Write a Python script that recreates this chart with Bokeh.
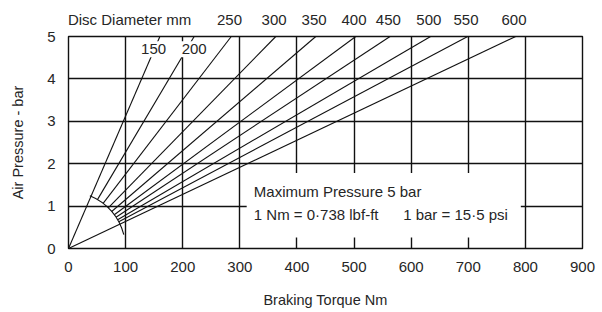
import math
from bokeh.plotting import figure
from bokeh.models import Label, BoxAnnotation, FixedTicker, Range1d, ColumnDataSource, LinearAxis
from bokeh.embed import file_html
from bokeh.resources import INLINE

# ---- data ----
disc_diameters = [150, 200, 250, 300, 350, 400, 450, 500, 550, 600]      # mm
torque_at_5bar = [160, 220, 285, 363, 433, 503, 563, 634, 699, 783]      # Nm at max pressure
max_pressure = 5                                                          # bar
line_from_origin = [True, False, False, False, False, False, False, False, False, True]
x_ticks = [0, 100, 200, 300, 400, 500, 600, 700, 800, 900]
y_ticks = [0, 1, 2, 3, 4, 5]

# ---- layout ----
W, H = 600, 310
ML, MT = 68, 36
FW, FH = 514, 213
MR, MB = W - ML - FW, H - MT - FH
X_MAX, Y_MAX = 900, 5
SX, SY = FW / X_MAX, FH / Y_MAX
ARC_R = 57  # screen px
FONT = "Liberation Sans"
TXT = "#262626"
INK = "#111111"

p = figure(width=W, height=H, output_backend="svg", toolbar_location=None,
           x_range=Range1d(0, X_MAX), y_range=Range1d(0, Y_MAX),
           min_border_left=ML, min_border_right=MR, min_border_top=MT, min_border_bottom=MB)
p.background_fill_color = "white"
p.border_fill_color = "white"
p.outline_line_color = INK
p.outline_line_width = 1.4

for g, t in ((p.xgrid, x_ticks), (p.ygrid, y_ticks)):
    g.ticker = FixedTicker(ticks=t)
    g.grid_line_color = INK
    g.grid_line_width = 1.4
    g.grid_line_alpha = 1.0

def style_axis(ax):
    ax.axis_line_color = None
    ax.major_tick_line_color = None
    ax.minor_tick_line_color = None
    ax.major_tick_out = 0
    ax.major_tick_in = 0
    ax.major_label_text_font = FONT
    ax.major_label_text_font_size = "15px"
    ax.major_label_text_color = TXT
    ax.major_label_standoff = 13
    ax.axis_label_text_font = FONT
    ax.axis_label_text_font_size = "14.5px"
    ax.axis_label_text_font_style = "normal"
    ax.axis_label_text_color = TXT

for ax, t in ((p.xaxis, x_ticks), (p.yaxis, y_ticks)):
    ax.ticker = FixedTicker(ticks=t)
    style_axis(ax)

p.xaxis.axis_label = "Braking Torque Nm"
p.xaxis.axis_label_standoff = 17
p.yaxis.axis_label = "Air Pressure - bar"
p.yaxis.axis_label_standoff = 18

# top axis: disc diameter labels at the ray ends
TITLE_X = 107
top_ticks = [TITLE_X] + [t - 3 for t in torque_at_5bar[2:]]
top_labels = {TITLE_X: "Disc Diameter mm"}
for d, t in zip(disc_diameters[2:], torque_at_5bar[2:]):
    top_labels[t - 3] = str(d)
top = LinearAxis(ticker=FixedTicker(ticks=top_ticks), major_label_overrides=top_labels)
style_axis(top)
top.major_label_standoff = 9
p.add_layout(top, "above")

# rays: from origin (or from the arc) to max pressure
x0, y0, x1, y1 = [], [], [], []
for t, org in zip(torque_at_5bar, line_from_origin):
    L = math.hypot(t * SX, max_pressure * SY)
    f = 0.0 if org else ARC_R / L
    x0.append(f * t); y0.append(f * max_pressure)
    x1.append(t); y1.append(max_pressure)
src = ColumnDataSource(dict(x0=x0, y0=y0, x1=x1, y1=y1))
p.segment("x0", "y0", "x1", "y1", source=src, line_color=INK, line_width=1.1)

p.arc(x=[0], y=[0], radius=ARC_R, radius_units="screen",
      start_angle=14, end_angle=68, start_angle_units="deg", end_angle_units="deg",
      line_color=INK, line_width=1.1)

# white panel behind notes
p.add_layout(BoxAnnotation(left=312, right=792, bottom=0.26, top=1.78,
                           fill_color="white", fill_alpha=1.0, line_color=None))

def lab(x, y, text, align="left", bg=None):
    kw = {}
    if bg:
        kw = dict(background_fill_color=bg, background_fill_alpha=1.0, padding=3)
    p.add_layout(Label(x=x, y=y, text=text, text_font=FONT,
                       text_font_size="15px", text_color=TXT, text_align=align,
                       text_baseline="middle", **kw))

inner_label_x = [149, 220]
for d, x in zip(disc_diameters[:2], inner_label_x):
    lab(x, 4.7, str(d), align="center", bg="white")

lab(324.5, 1.34, "Maximum Pressure 5 bar")
lab(324.5, 0.80, "1 Nm = 0·738 lbf-ft")
lab(586, 0.80, "1 bar = 15·5 psi")

open("out.html", "w").write(file_html(p, INLINE))
